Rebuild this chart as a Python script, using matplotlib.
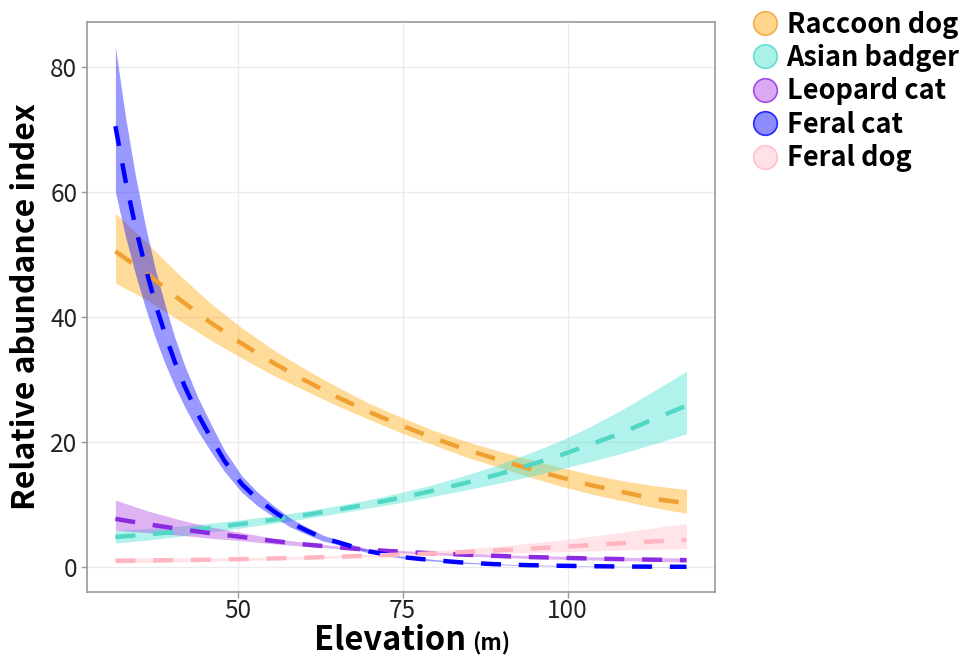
import matplotlib.pyplot as plt
from matplotlib.lines import Line2D
from matplotlib.colors import to_rgba

# elevation (m)
elev = [31.5, 36.3, 41.1, 45.9, 50.7, 55.5, 60.3, 65.1, 69.9, 74.7,
        79.5, 84.3, 89.1, 93.9, 98.7, 103.5, 108.3, 113.1, 118.0]
# feral cat is steep at low elevation, so it is read at more points
elev_cat = [31.5, 33, 34.5, 36, 37.5, 39, 40.5, 42, 44, 46, 48, 50.7, 53,
            55.5, 58, 60.3, 63, 65.1, 69.9, 74.7, 79.5, 84.3, 89.1, 93.9,
            98.7, 103.5, 108.3, 113.1, 118.0]

raccoon = [50.5, 46.9, 42.9, 39.1, 35.7, 32.6, 29.8, 27.2, 24.8, 22.7,
           20.7, 18.9, 17.3, 15.8, 14.4, 13.1, 12.0, 10.9, 10.2]
raccoon_lo = [45.4, 42.7, 39.5, 36.3, 33.4, 30.6, 28.2, 25.8, 23.6, 21.5,
              19.6, 17.7, 16.1, 14.5, 13.0, 11.7, 10.6, 9.5, 8.6]
raccoon_hi = [56.6, 51.8, 46.8, 42.2, 38.2, 34.7, 31.6, 28.8, 26.2, 24.0,
              21.9, 20.2, 18.7, 17.3, 16.0, 14.8, 13.8, 13.0, 12.4]

badger = [4.8, 5.18, 5.69, 6.26, 6.89, 7.57, 8.33, 9.16, 10.07, 11.07,
          12.18, 13.39, 14.7, 16.2, 17.8, 19.6, 21.5, 23.7, 25.8]
badger_lo = [3.84, 4.30, 4.89, 5.57, 6.27, 7.00, 7.75, 8.56, 9.42, 10.30,
             11.27, 12.25, 13.3, 14.4, 15.6, 16.9, 18.2, 19.7, 21.3]
badger_hi = [5.9, 6.16, 6.54, 7.01, 7.58, 8.21, 8.95, 9.80, 10.77, 11.90,
             13.15, 14.60, 16.2, 18.1, 20.1, 22.5, 25.2, 28.2, 31.3]

leopard = [7.7, 6.85, 6.1, 5.4, 4.8, 4.15, 3.6, 3.15, 2.75, 2.45,
           2.2, 1.98, 1.78, 1.6, 1.48, 1.36, 1.26, 1.17, 1.1]
leopard_lo = [5.9, 5.5, 5.1, 4.6, 4.2, 3.7, 3.3, 2.93, 2.57, 2.27,
              2.0, 1.77, 1.57, 1.38, 1.25, 1.12, 1.0, 0.9, 0.8]
leopard_hi = [10.7, 9.0, 7.6, 6.4, 5.5, 4.6, 3.9, 3.38, 2.95, 2.64,
              2.4, 2.2, 2.0, 1.85, 1.74, 1.64, 1.56, 1.5, 1.45]

feralcat = [70.5, 62.0, 54.6, 48.1, 42.3, 37.3, 32.8, 28.9, 24.4, 20.6,
            17.0, 13.2, 10.9, 8.9, 7.1, 5.9, 4.6, 4.0, 2.5, 1.6,
            1.1, 0.7, 0.45, 0.3, 0.2, 0.13, 0.08, 0.05, 0.03]
feralcat_lo = [60.0, 53.0, 47.0, 41.6, 36.8, 32.6, 28.9, 25.6, 21.7, 18.4,
               15.3, 11.9, 9.8, 8.0, 6.4, 5.3, 4.14, 3.6, 2.25, 1.44,
               0.97, 0.6, 0.38, 0.24, 0.15, 0.1, 0.06, 0.035, 0.02]
feralcat_hi = [83.2, 72.2, 62.8, 54.8, 47.8, 42.0, 36.7, 32.2, 27.1, 22.8,
               18.7, 14.5, 12.0, 9.8, 7.8, 6.5, 5.06, 4.4, 2.75, 1.78,
               1.23, 0.8, 0.52, 0.36, 0.25, 0.17, 0.11, 0.07, 0.05]

feraldog = [1.0, 1.05, 1.1, 1.17, 1.26, 1.37, 1.5, 1.64, 1.8, 1.98,
            2.18, 2.4, 2.65, 2.92, 3.2, 3.5, 3.82, 4.1, 4.35]
feraldog_lo = [0.65, 0.72, 0.81, 0.91, 1.03, 1.16, 1.31, 1.44, 1.58, 1.72,
               1.86, 2.0, 2.15, 2.29, 2.43, 2.57, 2.71, 2.83, 2.91]
feraldog_hi = [1.45, 1.45, 1.44, 1.46, 1.51, 1.60, 1.73, 1.87, 2.05, 2.28,
               2.55, 2.88, 3.29, 3.77, 4.29, 4.9, 5.58, 6.27, 6.96]

species = ["Raccoon dog", "Asian badger", "Leopard cat", "Feral cat", "Feral dog"]
xs = [elev, elev, elev, elev_cat, elev]
means = [raccoon, badger, leopard, feralcat, feraldog]
lows = [raccoon_lo, badger_lo, leopard_lo, feralcat_lo, feraldog_lo]
highs = [raccoon_hi, badger_hi, leopard_hi, feralcat_hi, feraldog_hi]
fills = ["#FFA500", "#40E0D0", "#B040E0", "#0000FF", "#FFC0CB"]
lines = ["#F0A030", "#50D8C4", "#8A2BE2", "#0000FF", "#FFB6C1"]

font = ["Noto Sans CJK KR", "DejaVu Sans"]
plt.rcParams["font.family"] = font

fig = plt.figure(figsize=(9.72, 6.6), dpi=100)
ax = fig.add_axes([0.0895, 0.103, 0.646, 0.864])

for x, lo, hi, fc in zip(xs, lows, highs, fills):
    ax.fill_between(x, lo, hi, color=fc, alpha=0.4, linewidth=0)
for x, m, lc in zip(xs, means, lines):
    ax.plot(x, m, color=lc, linewidth=3.2, linestyle=(0, (4.5, 4)))

ax.set_xlim(27.2, 122.3)
ax.set_ylim(-4.0, 87.2)
ax.set_xticks([50, 75, 100])
ax.set_yticks([0, 20, 40, 60, 80])
ax.grid(True, color="#EBEBEB", linewidth=1)
ax.set_axisbelow(True)
for s in ax.spines.values():
    s.set_color("#9A9A9A")
    s.set_linewidth(1.2)
ax.tick_params(colors="#9A9A9A", length=4, width=1, labelcolor="#222222",
               labelsize=17.5, pad=3)
ax.tick_params(axis="x", pad=0.5)
for lab in ax.get_xticklabels() + ax.get_yticklabels():
    lab.set_fontweight("light")

ax.set_ylabel("Relative abundance index", fontsize=23, fontweight="bold",
              labelpad=6)
fig.text(0.323, 0.015, "Elevation", fontsize=23.5, fontweight="bold",
         ha="left", va="baseline")
fig.text(0.486, 0.015, "(m)", fontsize=16, fontweight="bold",
         ha="left", va="baseline")

handles = [Line2D([], [], marker="o", linestyle="none", markersize=17,
                  markerfacecolor=to_rgba(fc, 0.45), markeredgecolor=to_rgba(lc, 0.8),
                  markeredgewidth=1.2)
           for fc, lc in zip(fills, lines)]
fig.legend(handles, species, loc="upper left", bbox_to_anchor=(0.773, 0.984),
           frameon=False, prop={"family": font, "weight": "bold", "size": 19.5},
           handlelength=1.0, handletextpad=0.3, labelspacing=0.2,
           borderaxespad=0, borderpad=0)

fig.savefig("out.png", dpi=100)
